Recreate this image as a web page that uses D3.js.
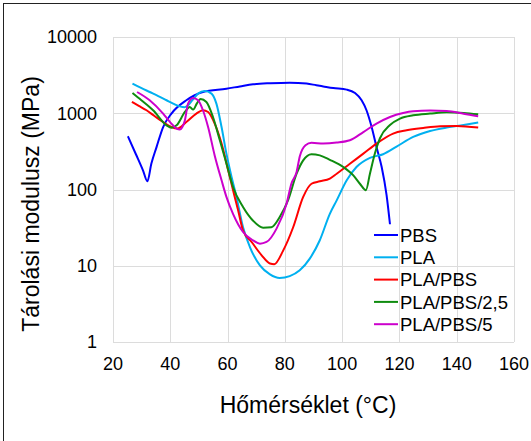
<!DOCTYPE html>
<html>
<head>
<meta charset="utf-8">
<title>Tárolási modulusz</title>
<script src="https://d3js.org/d3.v7.min.js"></script>
<style>
  body { margin: 0; background: #fff; }
  text { font-family: "Liberation Sans", Arial, sans-serif; fill: #000; }
</style>
</head>
<body>
<script>
// temperature (°C), storage modulus (MPa)
const pbs = [[25.2,499],[28,290],[30.5,177],[32,128],[33.4,219],[35.2,360],[37.5,660],[40.4,990],[45.6,1480],[51.4,1900],[59.6,2100],[64.3,2250],[68.9,2400],[75,2480],[81.7,2520],[87.6,2450],[91,2330],[93.4,2250],[96.9,2140],[101.6,2040],[104.5,1840],[106.8,1480],[108.5,1095],[110.3,660],[112,360],[113.8,197],[115.5,85],[116.7,35]];
const pla = [[26.8,2450],[29.8,2150],[32.8,1900],[35.8,1680],[38.7,1480],[41,1340],[43.3,1230],[45,1200],[46.2,1270],[47.8,1500],[49.7,1810],[52,1960],[54.4,1810],[56.1,1337],[57.9,660],[59.6,295],[61.4,146],[63.1,80],[65.4,32],[67.8,17.6],[71.3,10.1],[74.8,7.7],[78.2,6.9],[81.7,7.3],[85.2,8.7],[88.7,12.4],[92.2,21.6],[95.7,48],[98.1,72],[101.6,132],[105,197],[109.7,260],[114.3,290],[119,365],[124.8,489],[130.7,585],[136.5,649],[142.4,701],[147.5,754]];
const plaPbs = [[26.6,1406],[29,1250],[31.7,1095],[34.5,920],[37.5,767],[40.4,660],[42.5,630],[45.6,767],[49.1,990],[51.4,1095],[53.2,1038],[55.5,731],[57.9,400],[60.2,179],[62.5,80],[63.7,53],[65.4,29],[68.4,20.5],[71.9,13.7],[74.8,10.7],[76.3,10.5],[79.4,15.8],[82.9,32],[86.4,80],[89.3,119],[92.2,128],[95.7,139],[98.1,161],[102.7,218],[107.4,295],[112,400],[117.8,541],[122.5,597],[128.3,641],[134.2,675],[140,681],[147.5,649]];
const plaPbs25 = [[26.8,1840],[29.9,1480],[34,1095],[38.7,695],[40.4,645],[42.2,695],[45.1,1040],[46.8,1210],[48,1116],[49.3,1350],[50.6,1540],[52.6,1406],[54.9,893],[57.3,442],[59.6,219],[61.9,108],[65.4,59],[68.9,39],[72.4,31.6],[75.3,32],[78.2,43.6],[81.1,72],[84.1,161],[86.4,241],[89.3,290],[92.2,280],[95.7,245],[100.4,197],[103.9,153],[106.2,119],[108.3,98],[109.7,161],[111.4,295],[113.2,470],[116.7,700],[120.2,851],[124.8,940],[130.7,990],[136.5,1028],[142.4,1008],[147.5,968]];
const plaPbs5 = [[28.4,1900],[32.8,1480],[37.5,990],[40,760],[42.2,630],[43.3,611],[45.1,810],[46.2,1337],[48,1585],[49.7,1480],[51.4,1095],[53.2,660],[55.5,280],[57.9,132],[59.6,80],[61.9,48],[65.4,27.7],[68.9,21.5],[71.3,19.5],[73.6,20.5],[77.1,30.7],[80.6,65],[82.3,120],[84.1,170],[85.2,270],[87.2,380],[89.3,410],[93.4,400],[98.1,412],[102.7,442],[107.4,567],[112,731],[116.7,893],[121.3,1007],[124.8,1061],[130.7,1084],[136.5,1072],[142.4,988],[147.5,912]];

const seriesNames = ["PBS", "PLA", "PLA/PBS", "PLA/PBS/2,5", "PLA/PBS/5"];
const seriesData = [pbs, pla, plaPbs, plaPbs25, plaPbs5];
const seriesColors = ["#0000ff", "#00b0f0", "#ff0000", "#0f8c0f", "#cc00cc"];

const xTicks = [20, 40, 60, 80, 100, 120, 140, 160];
const yTicks = [1, 10, 100, 1000, 10000];

const width = 531, height = 441;
const plotLeft = 113, plotRight = 514, plotTop = 37, plotBottom = 342;

const svg = d3.select("body").append("svg")
    .attr("width", width)
    .attr("height", height);

// outer frame
svg.append("rect")
    .attr("x", 3.5).attr("y", 3.5)
    .attr("width", width + 10).attr("height", height + 10)
    .attr("fill", "none").attr("stroke", "#222").attr("stroke-width", 1);

const x = d3.scaleLinear().domain([20, 160]).range([plotLeft, plotRight]);
const y = d3.scaleLog().domain([1, 10000]).range([plotBottom, plotTop]);

// gridlines
svg.append("g").selectAll("line")
    .data(xTicks)
    .enter().append("line")
    .attr("x1", d => Math.round(x(d)) + 0.5).attr("x2", d => Math.round(x(d)) + 0.5)
    .attr("y1", plotTop).attr("y2", plotBottom)
    .attr("stroke", "#dcdcdc").attr("stroke-width", 1);

svg.append("g").selectAll("line")
    .data(yTicks)
    .enter().append("line")
    .attr("x1", plotLeft).attr("x2", plotRight)
    .attr("y1", d => Math.round(y(d)) + 0.5).attr("y2", d => Math.round(y(d)) + 0.5)
    .attr("stroke", "#dcdcdc").attr("stroke-width", 1);

// tick labels
svg.append("g").selectAll("text")
    .data(xTicks)
    .enter().append("text")
    .attr("x", d => x(d))
    .attr("y", 370)
    .attr("text-anchor", "middle")
    .attr("font-size", "18px")
    .text(d => d);

svg.append("g").selectAll("text")
    .data(yTicks)
    .enter().append("text")
    .attr("x", 97)
    .attr("y", d => y(d))
    .attr("dy", "0.36em")
    .attr("text-anchor", "end")
    .attr("font-size", "18px")
    .text(d => d);

// axis titles
svg.append("text")
    .attr("x", 308).attr("y", 413)
    .attr("text-anchor", "middle")
    .attr("font-size", "23px")
    .text("Hőmérséklet (°C)");

svg.append("text")
    .attr("transform", "translate(39,204) rotate(-90)")
    .attr("text-anchor", "middle")
    .attr("font-size", "23px")
    .text("Tárolási modulusz (MPa)");

// curves
const line = d3.line()
    .x(d => x(d[0]))
    .y(d => y(d[1]))
    .curve(d3.curveMonotoneX);

svg.append("g").selectAll("path")
    .data(seriesData)
    .enter().append("path")
    .attr("d", line)
    .attr("fill", "none")
    .attr("stroke", (d, i) => seriesColors[i])
    .attr("stroke-width", 2)
    .attr("stroke-linejoin", "round");

// legend
const legend = svg.append("g").selectAll("g")
    .data(seriesNames)
    .enter().append("g")
    .attr("transform", (d, i) => `translate(374,${235 + i * 22.3})`);

legend.append("line")
    .attr("x1", 0).attr("x2", 24)
    .attr("stroke", (d, i) => seriesColors[i])
    .attr("stroke-width", 2);

legend.append("text")
    .attr("x", 26)
    .attr("dy", "0.36em")
    .attr("font-size", "18.5px")
    .text(d => d);
</script>
</body>
</html>
